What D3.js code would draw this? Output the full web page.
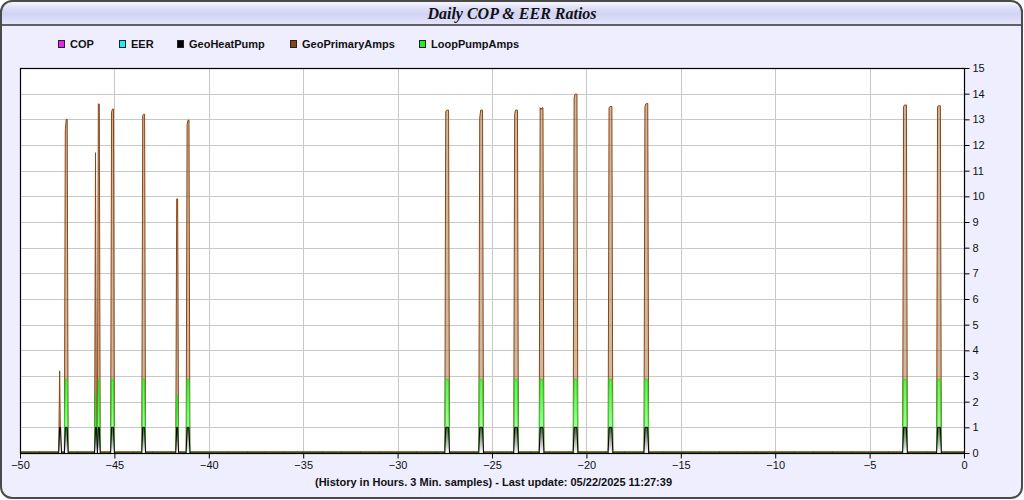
<!DOCTYPE html>
<html><head><meta charset="utf-8">
<script src="https://cdn.jsdelivr.net/npm/d3@7"></script>
<style>html,body{margin:0;padding:0;background:#fff;}svg{display:block;}</style>
</head><body>
<svg id="chart" width="1024" height="500"></svg>
<script>
// ---- data ----
const title = "Daily COP & EER Ratios";
const caption = "(History in Hours. 3 Min. samples) - Last update: 05/22/2025 11:27:39";
const seriesNames = ["COP", "EER", "GeoHeatPump", "GeoPrimaryAmps", "LoopPumpAmps"];
const seriesColors = ["#ee22ee", "#22eeee", "#000000", "#8b4513", "#22ee22"];
const xTicks = [-50, -45, -40, -35, -30, -25, -20, -15, -10, -5, 0];
const yTicks = [0, 1, 2, 3, 4, 5, 6, 7, 8, 9, 10, 11, 12, 13, 14, 15];
const sampleStep = 0.05; // 3 min samples, in hours
// start hour of each compressor run
const cycleStart = [-47.90, -47.60, -46.00, -45.85, -45.15, -43.50, -41.70, -41.15,
  -27.45, -25.65, -23.80, -22.45, -20.65, -18.80, -16.90, -3.20, -1.40];
// samples during each run
const geoPrimaryAmps = [[3.2], [12.6, 13.0, 13.0], [11.7], [13.6, 13.6], [13.3, 13.4, 13.4],
  [13.15, 13.2, 13.2], [9.9, 9.9], [12.8, 12.97, 12.97], [13.3, 13.36, 13.36, 13.36],
  [13.05, 13.36, 13.36, 13.36], [13.2, 13.36, 13.36, 13.36], [13.45, 13.38, 13.45, 13.45],
  [13.85, 13.98, 13.98, 13.98], [13.45, 13.5, 13.5, 13.5], [13.5, 13.6, 13.62, 13.62],
  [13.5, 13.56, 13.56, 13.56], [13.5, 13.53, 13.53, 13.53]];
const loopPumpAmps = [[], [2.9, 2.85, 2.85], [2.4], [2.85, 2.85], [2.9, 2.85, 2.85],
  [2.9, 2.85, 2.85], [2.25, 2.25], [2.9, 2.85, 2.85], [2.9, 2.85, 2.85, 2.85],
  [2.9, 2.85, 2.85, 2.85], [2.9, 2.85, 2.85, 2.85], [2.9, 2.85, 2.85, 2.85],
  [2.9, 2.85, 2.85, 2.85], [2.9, 2.85, 2.85, 2.85], [2.9, 2.85, 2.85, 2.85],
  [2.9, 2.85, 2.85, 2.85], [2.9, 2.85, 2.85, 2.85]];
const geoHeatPump = [[1, 1], [1, 1, 1], [1, 1], [1, 1], [1, 1, 1], [1, 1, 1], [1, 1],
  [1, 1, 1], [1, 1, 1, 1], [1, 1, 1, 1], [1, 1, 1, 1], [1, 1, 1, 1], [1, 1, 1, 1],
  [1, 1, 1, 1], [1, 1, 1, 1], [1, 1, 1, 1], [1, 1, 1, 1]];
const idleValues = { GeoPrimaryAmps: 0.05, LoopPumpAmps: 0, GeoHeatPump: 0 };

// ---- build point lists ----
function buildSeries(runs, idle) {
  const pts = [[-50, idle]];
  runs.forEach((vals, i) => {
    if (!vals.length) return;
    const h = cycleStart[i];
    pts.push([h - sampleStep, idle]);
    vals.forEach((v, k) => pts.push([h + k * sampleStep, v]));
    pts.push([h + vals.length * sampleStep, idle]);
  });
  pts.push([0, idle]);
  return pts.sort((a, b) => a[0] - b[0]);
}
const brownPts = buildSeries(geoPrimaryAmps, idleValues.GeoPrimaryAmps);
const greenPts = buildSeries(loopPumpAmps, idleValues.LoopPumpAmps);
const blackPts = buildSeries(geoHeatPump, idleValues.GeoHeatPump);

// ---- drawing ----
const svg = d3.select("#chart");
const plot = { l: 20, r: 964, t: 68, b: 453 };
const x = d3.scaleLinear().domain([-50, 0]).range([plot.l, plot.r]);
const y = d3.scaleLinear().domain([0, 15]).range([plot.b, plot.t]);
const font = "'Liberation Sans', Arial, sans-serif";

const defs = svg.append("defs");
const tg = defs.append("linearGradient").attr("id", "titleGrad").attr("x1", 0).attr("y1", 0).attr("x2", 0).attr("y2", 1);
[["0", "#fbfbff"], ["0.3", "#dedef8"], ["0.55", "#d2d2f4"], ["1", "#e6e6fc"]].forEach(s => tg.append("stop").attr("offset", s[0]).attr("stop-color", s[1]));
const gg = defs.append("linearGradient").attr("id", "greenGrad").attr("gradientUnits", "userSpaceOnUse")
  .attr("x1", 0).attr("x2", 0).attr("y1", y(2.9)).attr("y2", y(0));
gg.append("stop").attr("offset", "0").attr("stop-color", "#44ff44");
gg.append("stop").attr("offset", "1").attr("stop-color", "#d8ffd8");
const bg = defs.append("linearGradient").attr("id", "blackGrad").attr("gradientUnits", "userSpaceOnUse")
  .attr("x1", 0).attr("x2", 0).attr("y1", y(1)).attr("y2", y(0));
bg.append("stop").attr("offset", "0").attr("stop-color", "#555555");
bg.append("stop").attr("offset", "1").attr("stop-color", "#ffffff");
defs.append("clipPath").attr("id", "panelClip").append("rect")
  .attr("x", 1).attr("y", 1).attr("width", 1021).attr("height", 497).attr("rx", 11);

// panel
svg.append("rect").attr("x", 1).attr("y", 1).attr("width", 1021).attr("height", 497).attr("rx", 11)
  .attr("fill", "#eeeefe");
svg.append("rect").attr("x", 1).attr("y", 1).attr("width", 1021).attr("height", 24)
  .attr("fill", "url(#titleGrad)").attr("clip-path", "url(#panelClip)");
svg.append("line").attr("x1", 1).attr("x2", 1022).attr("y1", 25).attr("y2", 25)
  .attr("stroke", "#333").attr("stroke-width", 1.5);
svg.append("rect").attr("x", 1).attr("y", 1).attr("width", 1021).attr("height", 497).attr("rx", 11)
  .attr("fill", "none").attr("stroke", "#4a4a4a").attr("stroke-width", 2);

svg.append("text").attr("x", 512).attr("y", 19).attr("text-anchor", "middle")
  .attr("font-family", "'Liberation Serif', 'Times New Roman', serif")
  .attr("font-style", "italic").attr("font-weight", "bold").attr("font-size", 16)
  .attr("fill", "#111").text(title);

// legend
const legendX = [58, 119, 177, 290, 419];
seriesNames.forEach((name, i) => {
  const lx = legendX[i];
  svg.append("rect").attr("x", lx + 0.5).attr("y", 40.5).attr("width", 6).attr("height", 7)
    .attr("fill", seriesColors[i]).attr("stroke", "#222").attr("stroke-width", 1);
  svg.append("text").attr("x", lx + 12).attr("y", 48)
    .attr("font-family", font).attr("font-weight", "bold").attr("font-size", 11)
    .attr("fill", "#111").text(name);
});

// plot background and grid
svg.append("rect").attr("x", plot.l).attr("y", plot.t).attr("width", plot.r - plot.l).attr("height", plot.b - plot.t)
  .attr("fill", "#fff");
svg.append("g").selectAll("line").data(yTicks.filter(v => v > 0 && v < 15)).join("line")
  .attr("x1", plot.l).attr("x2", plot.r).attr("y1", d => Math.round(y(d)) + 0.5).attr("y2", d => Math.round(y(d)) + 0.5)
  .attr("stroke", "#c8c8c8").attr("stroke-width", 1);
svg.append("g").selectAll("line").data(xTicks.filter(v => v > -50 && v < 0)).join("line")
  .attr("y1", plot.t).attr("y2", plot.b).attr("x1", d => Math.round(x(d)) + 0.5).attr("x2", d => Math.round(x(d)) + 0.5)
  .attr("stroke", "#c8c8c8").attr("stroke-width", 1);

// axes
const xAxis = d3.axisBottom(x).tickValues(xTicks).tickSize(5).tickPadding(3).tickFormat(d3.format("d"));
const gx = svg.append("g").attr("transform", `translate(0,${plot.b + 0.5})`).call(xAxis);
gx.select(".domain").remove();
gx.selectAll("text").attr("font-family", font).attr("font-size", 11).attr("fill", "#111");
gx.selectAll("line").attr("stroke", "#000");
const minor = d3.range(-49, 0, 1).filter(v => v % 5 !== 0);
svg.append("g").selectAll("line").data(minor).join("line")
  .attr("x1", d => Math.round(x(d)) + 0.5).attr("x2", d => Math.round(x(d)) + 0.5)
  .attr("y1", plot.b - 2).attr("y2", plot.b).attr("stroke", "#999");

const yAxis = d3.axisRight(y).tickValues(yTicks).tickSize(5).tickPadding(3).tickFormat(d3.format("d"));
const gy = svg.append("g").attr("transform", `translate(${plot.r + 0.5},0)`).call(yAxis);
gy.select(".domain").remove();
gy.selectAll("text").attr("font-family", font).attr("font-size", 11).attr("fill", "#111");
gy.selectAll("line").attr("stroke", "#000");

// series
const area = d3.area().x(d => x(d[0])).y0(y(0)).y1(d => y(d[1]));
const line = d3.line().x(d => x(d[0])).y(d => y(d[1]));
const sg = svg.append("g");
sg.append("path").datum(brownPts).attr("d", area).attr("fill", "rgba(150,95,45,0.45)");
sg.append("path").datum(brownPts).attr("d", line).attr("fill", "none").attr("stroke", "#8b4513").attr("stroke-width", 1);
sg.append("path").datum(greenPts).attr("d", area).attr("fill", "url(#greenGrad)").attr("fill-opacity", 0.85);
sg.append("path").datum(greenPts).attr("d", line).attr("fill", "none").attr("stroke", "#22dd22").attr("stroke-width", 1);
sg.append("path").datum(blackPts).attr("d", area).attr("fill", "url(#blackGrad)");
sg.append("path").datum(blackPts).attr("d", line).attr("fill", "none").attr("stroke", "#000").attr("stroke-width", 1);

// plot frame
svg.append("rect").attr("x", plot.l + 0.5).attr("y", plot.t + 0.5).attr("width", plot.r - plot.l).attr("height", plot.b - plot.t)
  .attr("fill", "none").attr("stroke", "#000").attr("stroke-width", 1.2);

// caption
svg.append("text").attr("x", 315).attr("y", 486)
  .attr("font-family", font).attr("font-weight", "bold").attr("font-size", 11)
  .attr("fill", "#111").text(caption);
</script>
</body></html>
